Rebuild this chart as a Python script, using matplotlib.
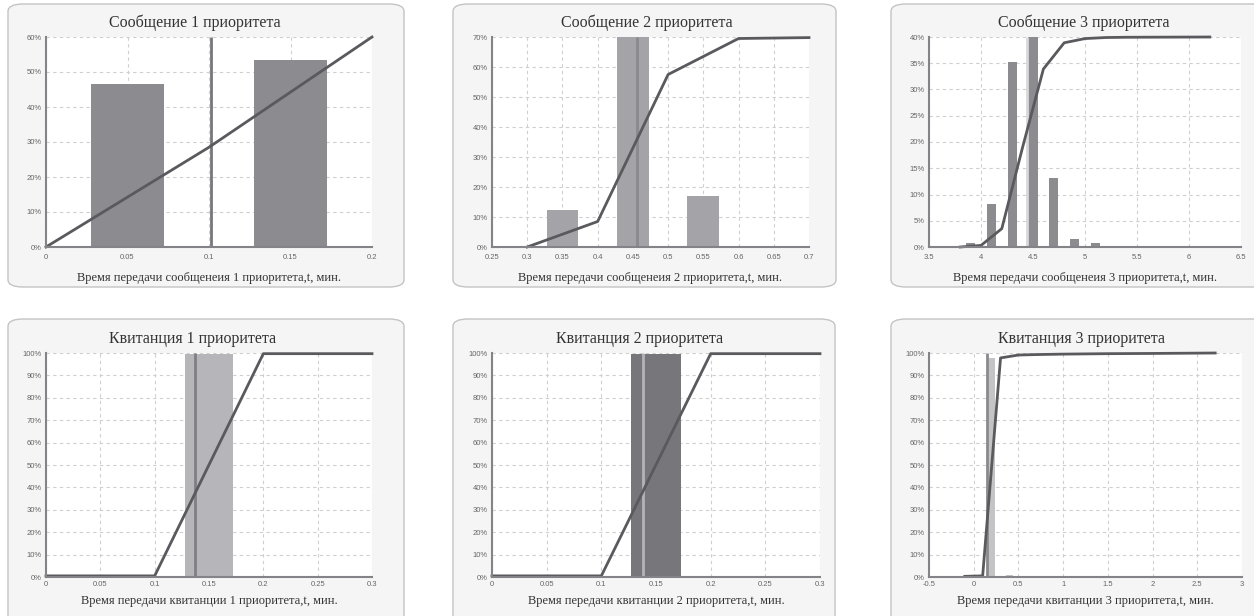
import numpy as np
import matplotlib
matplotlib.use("Agg")
import matplotlib.pyplot as plt
from matplotlib.patches import FancyBboxPatch
from matplotlib.ticker import FuncFormatter

# --- data -------------------------------------------------------------
titles = ["Сообщение 1 приоритета", "Сообщение 2 приоритета", "Сообщение 3 приоритета",
          "Квитанция 1 приоритета", "Квитанция 2 приоритета", "Квитанция 3 приоритета"]
xlabels = ["Время передачи сообщенеия 1 приоритета,t, мин.",
           "Время передачи сообщенеия 2 приоритета,t, мин.",
           "Время передачи сообщенеия 3 приоритета,t, мин.",
           "Время передачи квитанции 1 приоритета,t, мин.",
           "Время передачи квитанции 2 приоритета,t, мин.",
           "Время передачи квитанции 3 приоритета,t, мин."]

# histogram bars (centre, share)
bar_x1 = [0.05, 0.15]
bar_y1 = [0.465, 0.533]
bar_x2 = [0.35, 0.45, 0.55, 0.65]
bar_y2 = [0.122, 0.70, 0.171, 0.004]
bar_x3 = [3.9, 4.1, 4.3, 4.5, 4.7, 4.9, 5.1, 6.1]
bar_y3 = [0.007, 0.082, 0.353, 0.40, 0.131, 0.016, 0.007, 0.0025]
bar_x4 = [0.15]
bar_y4 = [0.995]
bar_x5 = [0.15]
bar_y5 = [0.995]
bar_x6 = [0.2, 0.4]
bar_y6 = [0.976, 0.008]

# cumulative lines
line_x1 = [0, 0.1, 0.2]
line_y1 = [0, 0.285, 0.60]
line_x2 = [0.3, 0.4, 0.5, 0.6, 0.7]
line_y2 = [0, 0.085, 0.575, 0.695, 0.698]
line_x3 = [3.8, 4.0, 4.2, 4.4, 4.6, 4.8, 5.0, 5.2, 5.4, 6.2]
line_y3 = [0.0, 0.003, 0.035, 0.19, 0.339, 0.389, 0.397, 0.399, 0.3995, 0.40]
line_x4 = [0, 0.1, 0.2, 0.3]
line_y4 = [0.005, 0.005, 0.997, 0.997]
line_x5 = [0, 0.1, 0.2, 0.3]
line_y5 = [0.005, 0.005, 0.997, 0.997]
line_x6 = [-0.1, 0.1, 0.3, 0.5, 0.7, 1.0, 1.5, 2.0, 2.7]
line_y6 = [0.003, 0.005, 0.978, 0.991, 0.993, 0.995, 0.997, 0.998, 1.0]

# mean markers (vertical lines)
mean_x = [0.101, 0.456, 4.44, 0.137, 0.138, 0.15]

bar_w = [0.045, 0.045, 0.09, 0.045, 0.045, 0.08]
x_ticks = [np.arange(0, 0.2001, 0.05), np.arange(0.25, 0.7001, 0.05), np.arange(3.5, 6.5001, 0.5),
           np.arange(0, 0.3001, 0.05), np.arange(0, 0.3001, 0.05), np.arange(-0.5, 3.0001, 0.5)]
y_ticks = [np.arange(0, 0.6001, 0.1), np.arange(0, 0.7001, 0.1), np.arange(0, 0.4001, 0.05),
           np.arange(0, 1.0001, 0.1), np.arange(0, 1.0001, 0.1), np.arange(0, 1.0001, 0.1)]

bars = [(bar_x1, bar_y1), (bar_x2, bar_y2), (bar_x3, bar_y3),
        (bar_x4, bar_y4), (bar_x5, bar_y5), (bar_x6, bar_y6)]
lines = [(line_x1, line_y1), (line_x2, line_y2), (line_x3, line_y3),
         (line_x4, line_y4), (line_x5, line_y5), (line_x6, line_y6)]

# --- styles -----------------------------------------------------------
bar_col = ["#8c8c90", "#a4a4a8", "#8c8c90", "#b6b6ba", "#77777b", "#c4c4c6"]
mean_col = ["#77777b", "#8a8a8e", "#d8d8da", "#808084", "#b4b4b8", "#8a8a8e"]
line_col = "#5a5a5e"

W, H = 1254, 616
# axes rectangles in pixels: left, top, right, bottom
ax_px = [(46, 37, 372, 247), (492, 37, 809, 247), (929, 37, 1241, 247),
         (46, 353, 372, 577), (492, 353, 820, 577), (929, 353, 1242, 577)]
box_px = [(8, 4, 404, 287), (453, 4, 836, 287), (891, 4, 1270, 287),
          (8, 319, 404, 640), (453, 319, 835, 640), (891, 319, 1270, 640)]
title_x = [195, 647, 1084, 193, 640, 1082]

fig = plt.figure(figsize=(W / 100, H / 100), dpi=100)
fig.patch.set_facecolor("white")

for (l, t, r, b) in box_px:
    p = FancyBboxPatch((l / W, 1 - b / H), (r - l) / W, (b - t) / H,
                       boxstyle="round,pad=0,rounding_size=0.012",
                       transform=fig.transFigure, facecolor="#f5f5f5",
                       edgecolor="#c4c4c4", linewidth=1.0, zorder=-1)
    fig.patches.append(p)


def fmt_x(v, pos):
    s = ("%.2f" % v).rstrip("0").rstrip(".")
    return "0" if s in ("-0", "") else s


for i in range(6):
    l, t, r, b = ax_px[i]
    top_row = i < 3
    ax = fig.add_axes([l / W, 1 - b / H, (r - l) / W, (b - t) / H])
    ax.set_facecolor("white")
    bx, by = bars[i]
    ax.bar(bx, by, width=bar_w[i], color=bar_col[i], zorder=2)
    ax.vlines(mean_x[i], 0, y_ticks[i][-1], color=mean_col[i], lw=2, zorder=3)
    lx, ly = lines[i]
    ax.plot(lx, ly, color=line_col, lw=2, zorder=4, clip_on=False)

    ax.set_xlim(x_ticks[i][0], x_ticks[i][-1])
    ax.set_ylim(0, y_ticks[i][-1])
    ax.set_xticks(x_ticks[i])
    ax.set_yticks(y_ticks[i])
    ax.xaxis.set_major_formatter(FuncFormatter(fmt_x))
    ax.yaxis.set_major_formatter(FuncFormatter(lambda v, p: "%d%%" % round(v * 100)))
    ax.tick_params(length=0, labelsize=5.5, labelcolor="#666666", pad=3)
    ax.tick_params(axis="x", pad=5 if top_row else 3)
    for lab in ax.get_xticklabels() + ax.get_yticklabels():
        lab.set_family("Liberation Sans")
    ax.grid(True, color="#cfcfcf", linestyle=(0, (3, 3)), linewidth=0.8, zorder=1)
    ax.set_axisbelow(True)
    for s in ("top", "right"):
        ax.spines[s].set_visible(False)
    for s in ("left", "bottom"):
        ax.spines[s].set_color("#848488")
        ax.spines[s].set_linewidth(1.5)
        ax.spines[s].set_zorder(5)

    ty = 23 if top_row else 339
    fig.text(title_x[i] / W, 1 - ty / H, titles[i], ha="center", va="center",
             family="Liberation Serif", fontsize=11.5, color="#333333")
    ax.set_xlabel(xlabels[i], family="Liberation Serif", fontsize=9, color="#333333",
                  labelpad=8 if top_row else 5)

fig.savefig("out.png", dpi=100)
